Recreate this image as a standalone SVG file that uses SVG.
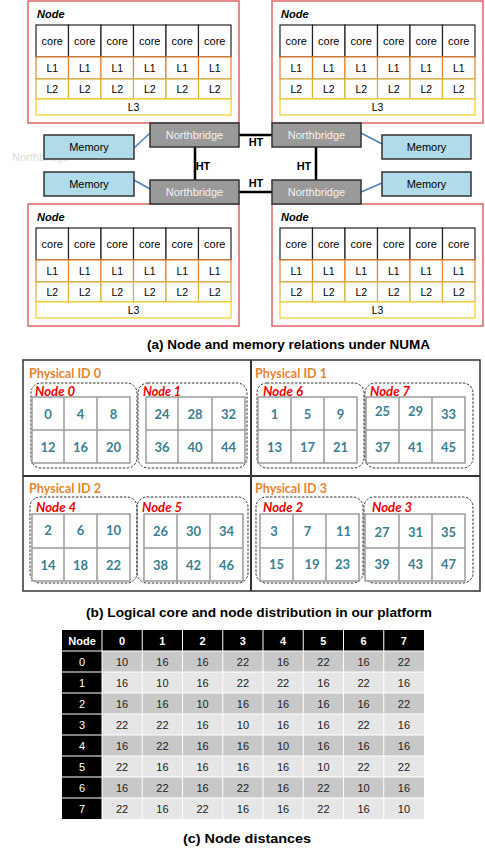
<svg xmlns="http://www.w3.org/2000/svg" width="485" height="850" viewBox="0 0 485 850">
<style>
text{font-family:"Liberation Sans",Arial,sans-serif}
.nodebox{fill:#fff;stroke:#e06464;stroke-width:1.5}
.nodet{font-size:11px;font-weight:bold;font-style:italic;fill:#000}
.core{fill:#fff;stroke:#222;stroke-width:1.2}
.l1{fill:#fff;stroke:#e8822a;stroke-width:1.2}
.l2{fill:#fff;stroke:#d4b13a;stroke-width:1.2}
.l3{fill:#fff;stroke:#f2d027;stroke-width:1.2}
.ct{font-size:11px;text-anchor:middle;fill:#000}
.lt{font-size:10.5px;text-anchor:middle;fill:#000}
.nb{fill:#9a9a9a;stroke:#333;stroke-width:1.5}
.nbt{font-size:11px;text-anchor:middle;fill:#f2f2f2}
.mem{fill:#b0dbe8;stroke:#333;stroke-width:1.5}
.memt{font-size:11px;text-anchor:middle;fill:#000}
.ht{stroke:#000;stroke-width:2.5;fill:none}
.bl{stroke:#4f81bd;stroke-width:1.5;fill:none}
.htt{font-size:11px;font-weight:bold;text-anchor:middle;fill:#000}
.cap{font-size:12.5px;font-weight:bold;text-anchor:middle;fill:#000}
.pid{font-family:Lato,"Noto Sans",sans-serif;font-size:12.5px;font-weight:bold;fill:#e8842c}
.nl{font-family:Lato,"Noto Sans",sans-serif;font-size:12.5px;font-weight:bold;font-style:italic;fill:#f00000}
.dash{fill:none;stroke:#333;stroke-width:1;stroke-dasharray:2.5,1.5}
.grid{fill:#fff;stroke:#9a9a9a;stroke-width:1.5}
.gl{stroke:#9a9a9a;stroke-width:1.5}
.num{font-family:Lato,"Noto Sans",sans-serif;font-size:13px;font-weight:bold;text-anchor:middle;fill:#3b8092}
.th{font-size:11px;font-weight:bold;text-anchor:middle;fill:#fff}
.tw{font-size:11px;text-anchor:middle;fill:#fff}
.td{font-size:11px;text-anchor:middle;fill:#222}
.sep{stroke:#fff;stroke-width:1}
</style>
<rect width="485" height="850" fill="#fff"/>
<defs>
<g id="cpu">
<rect class="nodebox" x="28" y="1" width="211" height="122"/>
<text class="nodet" x="37" y="18">Node</text>
<rect class="core" x="36" y="25" width="32.5" height="32"/><rect class="core" x="68.5" y="25" width="32.5" height="32"/><rect class="core" x="101" y="25" width="32.5" height="32"/><rect class="core" x="133.5" y="25" width="32.5" height="32"/><rect class="core" x="166" y="25" width="32.5" height="32"/><rect class="core" x="198.5" y="25" width="32.5" height="32"/>
<rect class="l1" x="36" y="57" width="32.5" height="22"/><rect class="l1" x="68.5" y="57" width="32.5" height="22"/><rect class="l1" x="101" y="57" width="32.5" height="22"/><rect class="l1" x="133.5" y="57" width="32.5" height="22"/><rect class="l1" x="166" y="57" width="32.5" height="22"/><rect class="l1" x="198.5" y="57" width="32.5" height="22"/>
<rect class="l2" x="36" y="79" width="32.5" height="20"/><rect class="l2" x="68.5" y="79" width="32.5" height="20"/><rect class="l2" x="101" y="79" width="32.5" height="20"/><rect class="l2" x="133.5" y="79" width="32.5" height="20"/><rect class="l2" x="166" y="79" width="32.5" height="20"/><rect class="l2" x="198.5" y="79" width="32.5" height="20"/>
<rect class="l3" x="36" y="99" width="195" height="16"/>
</g>
</defs>

<g id="node-tl">
<use href="#cpu"/>
<text class="ct" x="52.25" y="45">core</text><text class="ct" x="84.75" y="45">core</text><text class="ct" x="117.25" y="45">core</text><text class="ct" x="149.75" y="45">core</text><text class="ct" x="182.25" y="45">core</text><text class="ct" x="214.75" y="45">core</text>
<text class="lt" x="52.25" y="72">L1</text><text class="lt" x="84.75" y="72">L1</text><text class="lt" x="117.25" y="72">L1</text><text class="lt" x="149.75" y="72">L1</text><text class="lt" x="182.25" y="72">L1</text><text class="lt" x="214.75" y="72">L1</text>
<text class="lt" x="52.25" y="93">L2</text><text class="lt" x="84.75" y="93">L2</text><text class="lt" x="117.25" y="93">L2</text><text class="lt" x="149.75" y="93">L2</text><text class="lt" x="182.25" y="93">L2</text><text class="lt" x="214.75" y="93">L2</text>
<text class="lt" x="133.5" y="111">L3</text>
</g>
<g id="node-tr" transform="translate(244,0)">
<use href="#cpu"/>
<text class="ct" x="52.25" y="45">core</text><text class="ct" x="84.75" y="45">core</text><text class="ct" x="117.25" y="45">core</text><text class="ct" x="149.75" y="45">core</text><text class="ct" x="182.25" y="45">core</text><text class="ct" x="214.75" y="45">core</text>
<text class="lt" x="52.25" y="72">L1</text><text class="lt" x="84.75" y="72">L1</text><text class="lt" x="117.25" y="72">L1</text><text class="lt" x="149.75" y="72">L1</text><text class="lt" x="182.25" y="72">L1</text><text class="lt" x="214.75" y="72">L1</text>
<text class="lt" x="52.25" y="93">L2</text><text class="lt" x="84.75" y="93">L2</text><text class="lt" x="117.25" y="93">L2</text><text class="lt" x="149.75" y="93">L2</text><text class="lt" x="182.25" y="93">L2</text><text class="lt" x="214.75" y="93">L2</text>
<text class="lt" x="133.5" y="111">L3</text>
</g>
<g id="node-bl" transform="translate(0,203)">
<use href="#cpu"/>
<text class="ct" x="52.25" y="45">core</text><text class="ct" x="84.75" y="45">core</text><text class="ct" x="117.25" y="45">core</text><text class="ct" x="149.75" y="45">core</text><text class="ct" x="182.25" y="45">core</text><text class="ct" x="214.75" y="45">core</text>
<text class="lt" x="52.25" y="72">L1</text><text class="lt" x="84.75" y="72">L1</text><text class="lt" x="117.25" y="72">L1</text><text class="lt" x="149.75" y="72">L1</text><text class="lt" x="182.25" y="72">L1</text><text class="lt" x="214.75" y="72">L1</text>
<text class="lt" x="52.25" y="93">L2</text><text class="lt" x="84.75" y="93">L2</text><text class="lt" x="117.25" y="93">L2</text><text class="lt" x="149.75" y="93">L2</text><text class="lt" x="182.25" y="93">L2</text><text class="lt" x="214.75" y="93">L2</text>
<text class="lt" x="133.5" y="111">L3</text>
</g>
<g id="node-br" transform="translate(244,203)">
<use href="#cpu"/>
<text class="ct" x="52.25" y="45">core</text><text class="ct" x="84.75" y="45">core</text><text class="ct" x="117.25" y="45">core</text><text class="ct" x="149.75" y="45">core</text><text class="ct" x="182.25" y="45">core</text><text class="ct" x="214.75" y="45">core</text>
<text class="lt" x="52.25" y="72">L1</text><text class="lt" x="84.75" y="72">L1</text><text class="lt" x="117.25" y="72">L1</text><text class="lt" x="149.75" y="72">L1</text><text class="lt" x="182.25" y="72">L1</text><text class="lt" x="214.75" y="72">L1</text>
<text class="lt" x="52.25" y="93">L2</text><text class="lt" x="84.75" y="93">L2</text><text class="lt" x="117.25" y="93">L2</text><text class="lt" x="149.75" y="93">L2</text><text class="lt" x="182.25" y="93">L2</text><text class="lt" x="214.75" y="93">L2</text>
<text class="lt" x="133.5" y="111">L3</text>
</g>

<g id="connectors">
<line class="ht" x1="239" y1="135" x2="272" y2="135"/>
<line class="ht" x1="239" y1="192" x2="272" y2="192"/>
<line class="ht" x1="195" y1="147" x2="195" y2="180"/>
<line class="ht" x1="316" y1="147" x2="316" y2="180"/>
<line class="bl" x1="134" y1="148" x2="150" y2="133"/>
<line class="bl" x1="134" y1="180" x2="150" y2="189"/>
<line class="bl" x1="361" y1="133" x2="382" y2="144"/>
<line class="bl" x1="361" y1="192" x2="382" y2="183"/>
<text class="htt" x="256" y="146">HT</text>
<text class="htt" x="256" y="187">HT</text>
<text class="htt" x="203" y="170">HT</text>
<text class="htt" x="304" y="170">HT</text>
</g>

<text x="12" y="161" font-size="11" fill="#dcdcdc">Northbridge</text>

<g id="nb-tl"><rect class="nb" x="150" y="123" width="89" height="24"/><text class="nbt" x="194.5" y="139">Northbridge</text></g>
<g id="nb-tr"><rect class="nb" x="272" y="123" width="89" height="24"/><text class="nbt" x="316.5" y="139">Northbridge</text></g>
<g id="nb-bl"><rect class="nb" x="150" y="180" width="89" height="24"/><text class="nbt" x="194.5" y="196">Northbridge</text></g>
<g id="nb-br"><rect class="nb" x="272" y="180" width="89" height="24"/><text class="nbt" x="316.5" y="196">Northbridge</text></g>
<g id="mem-tl"><rect class="mem" x="44" y="135" width="90" height="24"/><text class="memt" x="89" y="151">Memory</text></g>
<g id="mem-bl"><rect class="mem" x="44" y="172" width="90" height="24"/><text class="memt" x="89" y="188">Memory</text></g>
<g id="mem-tr"><rect class="mem" x="382" y="135" width="89" height="24"/><text class="memt" x="426.5" y="151">Memory</text></g>
<g id="mem-br"><rect class="mem" x="382" y="172" width="89" height="24"/><text class="memt" x="426.5" y="188">Memory</text></g>

<text class="cap" x="288.5" y="349" textLength="283" lengthAdjust="spacingAndGlyphs">(a) Node and memory relations under NUMA</text>

<g id="platform">
<rect x="23" y="360" width="457" height="231" fill="#fff" stroke="#333" stroke-width="1.5"/>
<line x1="251" y1="360" x2="251" y2="591" stroke="#333" stroke-width="2"/>
<line x1="23" y1="476" x2="480" y2="476" stroke="#333" stroke-width="2"/>
</g>

<g id="phys0">
<text class="pid" x="29" y="378" textLength="72" lengthAdjust="spacingAndGlyphs">Physical ID 0</text>
<g id="node0">
<rect class="dash" x="31" y="383" width="106" height="85" rx="10"/>
<rect class="grid" x="32" y="397" width="98" height="66"/>
<line class="gl" x1="64" y1="397" x2="64" y2="463"/><line class="gl" x1="97" y1="397" x2="97" y2="463"/><line class="gl" x1="32" y1="430" x2="130" y2="430"/>
<text class="nl" x="35" y="396" textLength="40" lengthAdjust="spacingAndGlyphs">Node 0</text>
<text class="num" x="48" y="418.5">0</text><text class="num" x="80.5" y="418.5">4</text><text class="num" x="113.5" y="418.5">8</text>
<text class="num" x="48" y="451.5">12</text><text class="num" x="80.5" y="451.5">16</text><text class="num" x="113.5" y="451.5">20</text>
</g>
<g id="node1">
<rect class="dash" x="138" y="383" width="109" height="85" rx="10"/>
<rect class="grid" x="146" y="397" width="99" height="66"/>
<line class="gl" x1="178" y1="397" x2="178" y2="463"/><line class="gl" x1="212" y1="397" x2="212" y2="463"/><line class="gl" x1="146" y1="430" x2="245" y2="430"/>
<text class="nl" x="143" y="396" textLength="38" lengthAdjust="spacingAndGlyphs">Node 1</text>
<text class="num" x="162" y="418.5">24</text><text class="num" x="195" y="418.5">28</text><text class="num" x="228.5" y="418.5">32</text>
<text class="num" x="162" y="451.5">36</text><text class="num" x="195" y="451.5">40</text><text class="num" x="228.5" y="451.5">44</text>
</g>
</g>

<g id="phys1">
<text class="pid" x="255" y="378" textLength="72" lengthAdjust="spacingAndGlyphs">Physical ID 1</text>
<g id="node6">
<rect class="dash" x="257" y="383" width="107" height="85" rx="10"/>
<rect class="grid" x="258" y="397" width="99" height="66"/>
<line class="gl" x1="291" y1="397" x2="291" y2="463"/><line class="gl" x1="324" y1="397" x2="324" y2="463"/><line class="gl" x1="258" y1="430" x2="357" y2="430"/>
<text class="nl" x="263" y="396" textLength="40" lengthAdjust="spacingAndGlyphs">Node 6</text>
<text class="num" x="274.5" y="418.5">1</text><text class="num" x="307.5" y="418.5">5</text><text class="num" x="340.5" y="418.5">9</text>
<text class="num" x="274.5" y="451.5">13</text><text class="num" x="307.5" y="451.5">17</text><text class="num" x="340.5" y="451.5">21</text>
</g>
<g id="node7">
<rect class="dash" x="365" y="383" width="108" height="85" rx="10"/>
<rect class="grid" x="366" y="397" width="99" height="66"/>
<line class="gl" x1="399" y1="397" x2="399" y2="463"/><line class="gl" x1="432" y1="397" x2="432" y2="463"/><line class="gl" x1="366" y1="430" x2="465" y2="430"/>
<text class="nl" x="370" y="396" textLength="40" lengthAdjust="spacingAndGlyphs">Node 7</text>
<text class="num" x="382.5" y="416">25</text><text class="num" x="415.5" y="416">29</text><text class="num" x="448.5" y="418.5">33</text>
<text class="num" x="382.5" y="451.5">37</text><text class="num" x="415.5" y="451.5">41</text><text class="num" x="448.5" y="451.5">45</text>
</g>
</g>

<g id="phys2">
<text class="pid" x="29" y="493" textLength="72" lengthAdjust="spacingAndGlyphs">Physical ID 2</text>
<g id="node4">
<rect class="dash" x="30" y="497" width="107" height="86" rx="10"/>
<rect class="grid" x="32" y="514" width="98" height="67"/>
<line class="gl" x1="64" y1="514" x2="64" y2="581"/><line class="gl" x1="97" y1="514" x2="97" y2="581"/><line class="gl" x1="32" y1="548" x2="130" y2="548"/>
<text class="nl" x="36" y="512" textLength="40" lengthAdjust="spacingAndGlyphs">Node 4</text>
<text class="num" x="48" y="535">2</text><text class="num" x="80.5" y="535">6</text><text class="num" x="113.5" y="535">10</text>
<text class="num" x="48" y="569.5">14</text><text class="num" x="80.5" y="569.5">18</text><text class="num" x="113.5" y="569.5">22</text>
</g>
<g id="node5">
<rect class="dash" x="137" y="497" width="111" height="86" rx="10"/>
<rect class="grid" x="144" y="514" width="99" height="67"/>
<line class="gl" x1="177" y1="514" x2="177" y2="581"/><line class="gl" x1="210" y1="514" x2="210" y2="581"/><line class="gl" x1="144" y1="548" x2="243" y2="548"/>
<text class="nl" x="142" y="512" textLength="40" lengthAdjust="spacingAndGlyphs">Node 5</text>
<text class="num" x="160.5" y="536">26</text><text class="num" x="193.5" y="536">30</text><text class="num" x="226.5" y="536">34</text>
<text class="num" x="160.5" y="569.5">38</text><text class="num" x="193.5" y="569.5">42</text><text class="num" x="226.5" y="569.5">46</text>
</g>
</g>

<g id="phys3">
<text class="pid" x="255" y="493" textLength="72" lengthAdjust="spacingAndGlyphs">Physical ID 3</text>
<g id="node2">
<rect class="dash" x="256" y="497" width="107" height="86" rx="10"/>
<rect class="grid" x="260" y="514" width="99" height="67"/>
<line class="gl" x1="293" y1="514" x2="293" y2="581"/><line class="gl" x1="326" y1="514" x2="326" y2="581"/><line class="gl" x1="260" y1="548" x2="359" y2="548"/>
<text class="nl" x="263" y="512" textLength="40" lengthAdjust="spacingAndGlyphs">Node 2</text>
<text class="num" x="274" y="536">3</text><text class="num" x="307.5" y="536">7</text><text class="num" x="343.5" y="536">11</text>
<text class="num" x="276.5" y="569">15</text><text class="num" x="312" y="569">19</text><text class="num" x="342.5" y="569">23</text>
</g>
<g id="node3">
<rect class="dash" x="364" y="497" width="109" height="86" rx="10"/>
<rect class="grid" x="365" y="514" width="100" height="67"/>
<line class="gl" x1="399" y1="514" x2="399" y2="581"/><line class="gl" x1="432" y1="514" x2="432" y2="581"/><line class="gl" x1="365" y1="548" x2="465" y2="548"/>
<text class="nl" x="372" y="512" textLength="40" lengthAdjust="spacingAndGlyphs">Node 3</text>
<text class="num" x="382" y="537">27</text><text class="num" x="415.5" y="537">31</text><text class="num" x="448.5" y="537">35</text>
<text class="num" x="382" y="569">39</text><text class="num" x="415.5" y="569">43</text><text class="num" x="448.5" y="569">47</text>
</g>
</g>

<text class="cap" x="259" y="617" textLength="346" lengthAdjust="spacingAndGlyphs">(b) Logical core and node distribution in our platform</text>

<g id="distance-table">
<rect x="102" y="651" width="322" height="21" fill="#c8c8c8"/>
<rect x="102" y="672" width="322" height="21" fill="#e6e6e6"/>
<rect x="102" y="693" width="322" height="21" fill="#c8c8c8"/>
<rect x="102" y="714" width="322" height="21" fill="#e6e6e6"/>
<rect x="102" y="735" width="322" height="21" fill="#c8c8c8"/>
<rect x="102" y="756" width="322" height="21" fill="#e6e6e6"/>
<rect x="102" y="777" width="322" height="21" fill="#c8c8c8"/>
<rect x="102" y="798" width="322" height="21" fill="#e6e6e6"/>
<rect x="62" y="630" width="362" height="21" fill="#000"/>
<rect x="62" y="630" width="40" height="189" fill="#000"/>
<g class="sep">
<line x1="62" y1="651" x2="424" y2="651"/><line x1="62" y1="672" x2="424" y2="672"/><line x1="62" y1="693" x2="424" y2="693"/><line x1="62" y1="714" x2="424" y2="714"/><line x1="62" y1="735" x2="424" y2="735"/><line x1="62" y1="756" x2="424" y2="756"/><line x1="62" y1="777" x2="424" y2="777"/><line x1="62" y1="798" x2="424" y2="798"/>
<line x1="102" y1="630" x2="102" y2="819"/><line x1="142.25" y1="630" x2="142.25" y2="819"/><line x1="182.5" y1="630" x2="182.5" y2="819"/><line x1="222.75" y1="630" x2="222.75" y2="819"/><line x1="263" y1="630" x2="263" y2="819"/><line x1="303.25" y1="630" x2="303.25" y2="819"/><line x1="343.5" y1="630" x2="343.5" y2="819"/><line x1="383.75" y1="630" x2="383.75" y2="819"/>
</g>
<text class="th" x="82" y="644.5">Node</text><text class="th" x="122.1" y="644.5">0</text><text class="th" x="162.4" y="644.5">1</text><text class="th" x="202.6" y="644.5">2</text><text class="th" x="242.9" y="644.5">3</text><text class="th" x="283.1" y="644.5">4</text><text class="th" x="323.4" y="644.5">5</text><text class="th" x="363.6" y="644.5">6</text><text class="th" x="403.9" y="644.5">7</text>
<text class="tw" x="82" y="665.5">0</text><text class="td" x="122.1" y="665.5">10</text><text class="td" x="162.4" y="665.5">16</text><text class="td" x="202.6" y="665.5">16</text><text class="td" x="242.9" y="665.5">22</text><text class="td" x="283.1" y="665.5">16</text><text class="td" x="323.4" y="665.5">22</text><text class="td" x="363.6" y="665.5">16</text><text class="td" x="403.9" y="665.5">22</text>
<text class="tw" x="82" y="686.5">1</text><text class="td" x="122.1" y="686.5">16</text><text class="td" x="162.4" y="686.5">10</text><text class="td" x="202.6" y="686.5">16</text><text class="td" x="242.9" y="686.5">22</text><text class="td" x="283.1" y="686.5">22</text><text class="td" x="323.4" y="686.5">16</text><text class="td" x="363.6" y="686.5">22</text><text class="td" x="403.9" y="686.5">16</text>
<text class="tw" x="82" y="707.5">2</text><text class="td" x="122.1" y="707.5">16</text><text class="td" x="162.4" y="707.5">16</text><text class="td" x="202.6" y="707.5">10</text><text class="td" x="242.9" y="707.5">16</text><text class="td" x="283.1" y="707.5">16</text><text class="td" x="323.4" y="707.5">16</text><text class="td" x="363.6" y="707.5">16</text><text class="td" x="403.9" y="707.5">22</text>
<text class="tw" x="82" y="728.5">3</text><text class="td" x="122.1" y="728.5">22</text><text class="td" x="162.4" y="728.5">22</text><text class="td" x="202.6" y="728.5">16</text><text class="td" x="242.9" y="728.5">10</text><text class="td" x="283.1" y="728.5">16</text><text class="td" x="323.4" y="728.5">16</text><text class="td" x="363.6" y="728.5">22</text><text class="td" x="403.9" y="728.5">16</text>
<text class="tw" x="82" y="749.5">4</text><text class="td" x="122.1" y="749.5">16</text><text class="td" x="162.4" y="749.5">22</text><text class="td" x="202.6" y="749.5">16</text><text class="td" x="242.9" y="749.5">16</text><text class="td" x="283.1" y="749.5">10</text><text class="td" x="323.4" y="749.5">16</text><text class="td" x="363.6" y="749.5">16</text><text class="td" x="403.9" y="749.5">16</text>
<text class="tw" x="82" y="770.5">5</text><text class="td" x="122.1" y="770.5">22</text><text class="td" x="162.4" y="770.5">16</text><text class="td" x="202.6" y="770.5">16</text><text class="td" x="242.9" y="770.5">16</text><text class="td" x="283.1" y="770.5">16</text><text class="td" x="323.4" y="770.5">10</text><text class="td" x="363.6" y="770.5">22</text><text class="td" x="403.9" y="770.5">22</text>
<text class="tw" x="82" y="791.5">6</text><text class="td" x="122.1" y="791.5">16</text><text class="td" x="162.4" y="791.5">22</text><text class="td" x="202.6" y="791.5">16</text><text class="td" x="242.9" y="791.5">22</text><text class="td" x="283.1" y="791.5">16</text><text class="td" x="323.4" y="791.5">22</text><text class="td" x="363.6" y="791.5">10</text><text class="td" x="403.9" y="791.5">16</text>
<text class="tw" x="82" y="812.5">7</text><text class="td" x="122.1" y="812.5">22</text><text class="td" x="162.4" y="812.5">16</text><text class="td" x="202.6" y="812.5">22</text><text class="td" x="242.9" y="812.5">16</text><text class="td" x="283.1" y="812.5">16</text><text class="td" x="323.4" y="812.5">22</text><text class="td" x="363.6" y="812.5">16</text><text class="td" x="403.9" y="812.5">10</text>
</g>

<text class="cap" x="247" y="843" textLength="128" lengthAdjust="spacingAndGlyphs">(c) Node distances</text>
</svg>
